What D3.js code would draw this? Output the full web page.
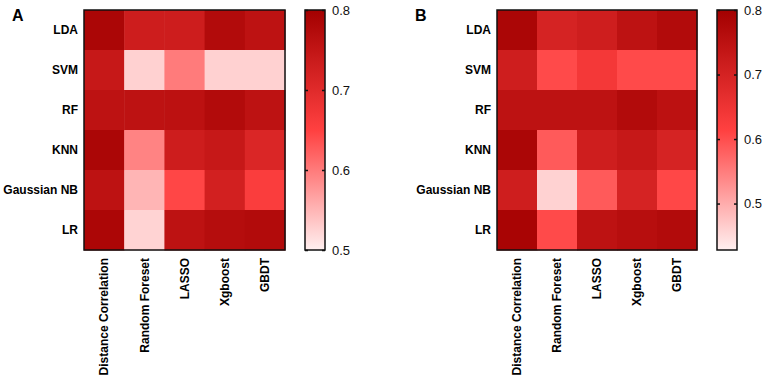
<!DOCTYPE html>
<html>
<head>
<meta charset="utf-8">
<script src="https://cdn.jsdelivr.net/npm/d3@7.9.0/dist/d3.min.js"></script>
<style>
  body { margin: 0; background: #fff; }
  svg { display: block; font-family: 'Liberation Sans', Arial, sans-serif; }
</style>
</head>
<body>
<svg id="chart" width="766" height="378"></svg>
<script>
const methods = ['LDA', 'SVM', 'RF', 'KNN', 'Gaussian NB', 'LR'];
const selectors = ['Distance Correlation', 'Random Foreset', 'LASSO', 'Xgboost', 'GBDT'];

// rows follow methods, columns follow selectors
const valuesA = [
  [0.787, 0.731, 0.731, 0.775, 0.757],
  [0.743, 0.526, 0.600, 0.526, 0.526],
  [0.757, 0.757, 0.760, 0.775, 0.757],
  [0.787, 0.593, 0.731, 0.743, 0.710],
  [0.757, 0.550, 0.645, 0.724, 0.658],
  [0.785, 0.525, 0.757, 0.770, 0.775],
];
const valuesB = [
  [0.784, 0.698, 0.714, 0.747, 0.769],
  [0.714, 0.603, 0.636, 0.603, 0.603],
  [0.747, 0.747, 0.747, 0.769, 0.750],
  [0.784, 0.587, 0.714, 0.730, 0.698],
  [0.714, 0.460, 0.587, 0.698, 0.607],
  [0.787, 0.603, 0.747, 0.760, 0.769],
];

const domainA = [0.5, 0.8];
const domainB = [0.428, 0.8];
const ticksA = [0.5, 0.6, 0.7, 0.8];
const ticksB = [0.5, 0.6, 0.7, 0.8];

const svg = d3.select('#chart');

function drawPanel(opts) {
  const { letter, letterX, x0, values, domain, ticks, id } = opts;
  const top = 10, bottom = 250;
  const width = opts.width;

  const x = d3.scaleBand().domain(selectors).range([x0, x0 + width]);
  const y = d3.scaleBand().domain(methods).range([top, bottom]);
  const color = d3.scaleLinear()
    .domain([domain[0], (domain[0] + domain[1]) / 2, domain[1]])
    .range(['#fff0f0', '#ff4040', '#a30000']);

  const g = svg.append('g');

  const cells = [];
  values.forEach((row, i) => row.forEach((v, j) => cells.push({ r: methods[i], c: selectors[j], v })));

  g.selectAll('rect.cell')
    .data(cells)
    .join('rect')
    .attr('class', 'cell')
    .attr('x', (d) => x(d.c))
    .attr('y', (d) => y(d.r))
    .attr('width', x.bandwidth() + 0.5)
    .attr('height', y.bandwidth() + 0.5)
    .attr('fill', (d) => color(d.v));

  g.append('rect')
    .attr('x', x0).attr('y', top)
    .attr('width', width).attr('height', bottom - top)
    .attr('fill', 'none').attr('stroke', '#111').attr('stroke-width', 1.5);

  // row labels
  g.selectAll('text.row')
    .data(methods)
    .join('text')
    .attr('class', 'row')
    .attr('x', x0 - 6)
    .attr('y', (d) => y(d) + y.bandwidth() / 2)
    .attr('dy', '0.35em')
    .attr('text-anchor', 'end')
    .attr('font-size', 12)
    .attr('font-weight', 'bold')
    .text((d) => d);

  // column labels, rotated
  g.selectAll('text.col')
    .data(selectors)
    .join('text')
    .attr('class', 'col')
    .attr('transform', (d) => `translate(${x(d) + x.bandwidth() / 2},${bottom + 8}) rotate(-90)`)
    .attr('dy', '0.35em')
    .attr('text-anchor', 'end')
    .attr('font-size', 12)
    .attr('font-weight', 'bold')
    .text((d) => d);

  // panel letter
  g.append('text')
    .attr('x', letterX).attr('y', 21)
    .attr('font-size', 16).attr('font-weight', 'bold')
    .text(letter);

  // colour bar
  const cbX = x0 + width + 20, cbW = 20;
  const grad = svg.append('defs').append('linearGradient')
    .attr('id', id).attr('x1', 0).attr('y1', 1).attr('x2', 0).attr('y2', 0);
  d3.range(0, 1.0001, 0.05).forEach((t) => {
    grad.append('stop')
      .attr('offset', t)
      .attr('stop-color', color(domain[0] + t * (domain[1] - domain[0])));
  });

  g.append('rect')
    .attr('x', cbX).attr('y', top).attr('width', cbW).attr('height', bottom - top)
    .attr('fill', `url(#${id})`)
    .attr('stroke', '#111').attr('stroke-width', 1.5);

  const cy = d3.scaleLinear().domain(domain).range([bottom, top]);

  const right = g.append('g')
    .attr('transform', `translate(${cbX + cbW},0)`)
    .call(d3.axisRight(cy).tickValues(ticks).tickFormat(d3.format('.1f')).tickSize(-3).tickPadding(7));
  right.select('.domain').remove();
  right.selectAll('line').attr('stroke', '#111').attr('stroke-width', 1.5);
  right.selectAll('text').attr('font-size', 13).attr('fill', '#111')
    .style('font-family', "'Liberation Sans', Arial, sans-serif");

  const left = g.append('g')
    .attr('transform', `translate(${cbX},0)`)
    .call(d3.axisLeft(cy).tickValues(ticks).tickFormat('').tickSize(-3));
  left.select('.domain').remove();
  left.selectAll('line').attr('stroke', '#111').attr('stroke-width', 1.5);
}

drawPanel({ letter: 'A', letterX: 12, x0: 84, width: 201, values: valuesA, domain: domainA, ticks: ticksA, id: 'gradA' });
drawPanel({ letter: 'B', letterX: 415, x0: 497, width: 200, values: valuesB, domain: domainB, ticks: ticksB, id: 'gradB' });
</script>
</body>
</html>
